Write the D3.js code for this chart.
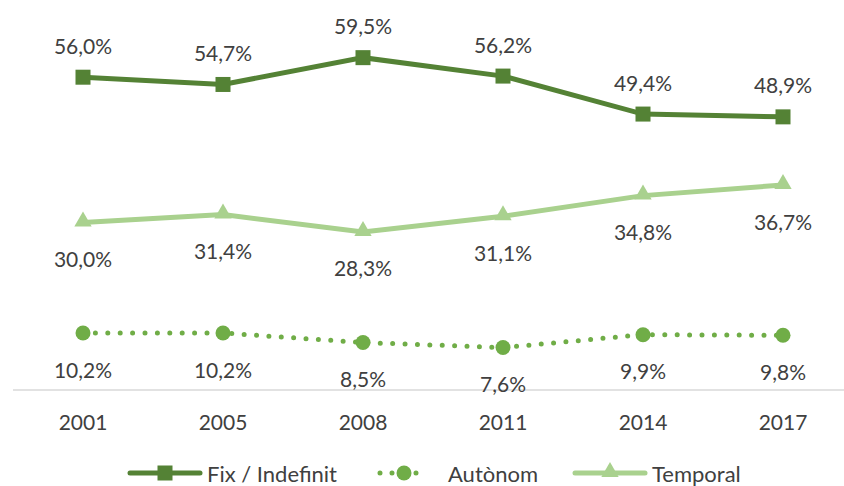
<!DOCTYPE html>
<html>
<head>
<meta charset="utf-8">
<script src="https://cdn.jsdelivr.net/npm/d3@7"></script>
<style>
  body { margin: 0; background: #fff; }
  text { font-family: Lato, "Open Sans", sans-serif; fill: #404040; }
</style>
</head>
<body>
<svg id="chart" width="844" height="486"></svg>
<script>
// data
var years = ['2001', '2005', '2008', '2011', '2014', '2017'];
var fix = [56.0, 54.7, 59.5, 56.2, 49.4, 48.9];
var autonom = [10.2, 10.2, 8.5, 7.6, 9.9, 9.8];
var temporal = [30.0, 31.4, 28.3, 31.1, 34.8, 36.7];

var seriesNames = ['Fix / Indefinit', 'Autònom', 'Temporal'];
var colors = ['#548235', '#70ad47', '#a9d18e'];

var svg = d3.select('#chart');

var x = d3.scaleBand().domain(years).range([13, 853]);
var y = d3.scaleLinear().domain([0, 70]).range([390, -1]);
var cx = function(d, i){ return x(years[i]) + x.bandwidth() / 2; };

var fmt = function(v){ return v.toFixed(1).replace('.', ',') + '%'; };

// axis
svg.append('line')
    .attr('x1', 13).attr('x2', 853)
    .attr('y1', y(0)).attr('y2', y(0))
    .style('stroke', '#d9d9d9').style('stroke-width', 1.3);

svg.append('g').selectAll('text')
    .data(years).enter().append('text')
    .attr('x', d => x(d) + x.bandwidth() / 2)
    .attr('y', 421)
    .attr('text-anchor', 'middle')
    .attr('dominant-baseline', 'central')
    .style('font-size', '21px')
    .text(d => d);

var line = d3.line().x(cx).y(d => y(d));

/*************************************************************************/

// Temporal
svg.append('path').datum(temporal)
    .attr('d', line)
    .style('fill', 'none').style('stroke', colors[2]).style('stroke-width', 5);
svg.append('g').selectAll('path')
    .data(temporal).enter().append('path')
    .attr('d', d3.symbol(d3.symbolTriangle, 130))
    .attr('transform', (d, i) => 'translate(' + cx(d, i) + ',' + (y(d) - 1) + ')')
    .style('fill', colors[2]);

// Autònom
svg.append('path').datum(autonom)
    .attr('d', line)
    .style('fill', 'none').style('stroke', colors[1]).style('stroke-width', 5)
    .style('stroke-linecap', 'round').style('stroke-dasharray', '0 12.4');
svg.append('g').selectAll('circle')
    .data(autonom).enter().append('circle')
    .attr('cx', cx).attr('cy', d => y(d)).attr('r', 7.5)
    .style('fill', colors[1]);

// Fix / Indefinit
svg.append('path').datum(fix)
    .attr('d', line)
    .style('fill', 'none').style('stroke', colors[0]).style('stroke-width', 5);
svg.append('g').selectAll('rect')
    .data(fix).enter().append('rect')
    .attr('x', (d, i) => cx(d, i) - 7.5).attr('y', d => y(d) - 7.5)
    .attr('width', 15).attr('height', 15)
    .style('fill', colors[0]);

/*************************************************************************/

// value labels
function labels(data, dy){
    svg.append('g').selectAll('text')
        .data(data).enter().append('text')
        .attr('x', cx)
        .attr('y', d => y(d) + dy)
        .attr('text-anchor', 'middle')
        .attr('dominant-baseline', 'central')
        .style('font-size', '21px')
        .text(fmt);
}
labels(fix, -32);
labels(temporal, 36);
labels(autonom, 36);

/*************************************************************************/

// legend
var lg = svg.append('g');
var ly = 473;
lg.append('line').attr('x1', 130).attr('x2', 200).attr('y1', ly).attr('y2', ly)
    .style('stroke', colors[0]).style('stroke-width', 5).style('stroke-linecap', 'round');
lg.append('rect').attr('x', 157.5).attr('y', ly - 7.5).attr('width', 15).attr('height', 15)
    .style('fill', colors[0]);
lg.append('text').attr('x', 207).attr('y', ly).attr('dominant-baseline', 'central')
    .style('font-size', '22px').text(seriesNames[0]);

lg.append('line').attr('x1', 380).attr('x2', 428).attr('y1', ly).attr('y2', ly)
    .style('stroke', colors[1]).style('stroke-width', 5)
    .style('stroke-linecap', 'round').style('stroke-dasharray', '0 12');
lg.append('circle').attr('cx', 404).attr('cy', ly).attr('r', 7.5)
    .style('fill', colors[1]);
lg.append('text').attr('x', 448).attr('y', ly).attr('dominant-baseline', 'central')
    .style('font-size', '22px').text(seriesNames[1]);

lg.append('line').attr('x1', 575).attr('x2', 645).attr('y1', ly).attr('y2', ly)
    .style('stroke', colors[2]).style('stroke-width', 5).style('stroke-linecap', 'round');
lg.append('path').attr('d', d3.symbol(d3.symbolTriangle, 130))
    .attr('transform', 'translate(610,' + (ly - 1) + ')')
    .style('fill', colors[2]);
lg.append('text').attr('x', 652).attr('y', ly).attr('dominant-baseline', 'central')
    .style('font-size', '22px').text(seriesNames[2]);
</script>
</body>
</html>
